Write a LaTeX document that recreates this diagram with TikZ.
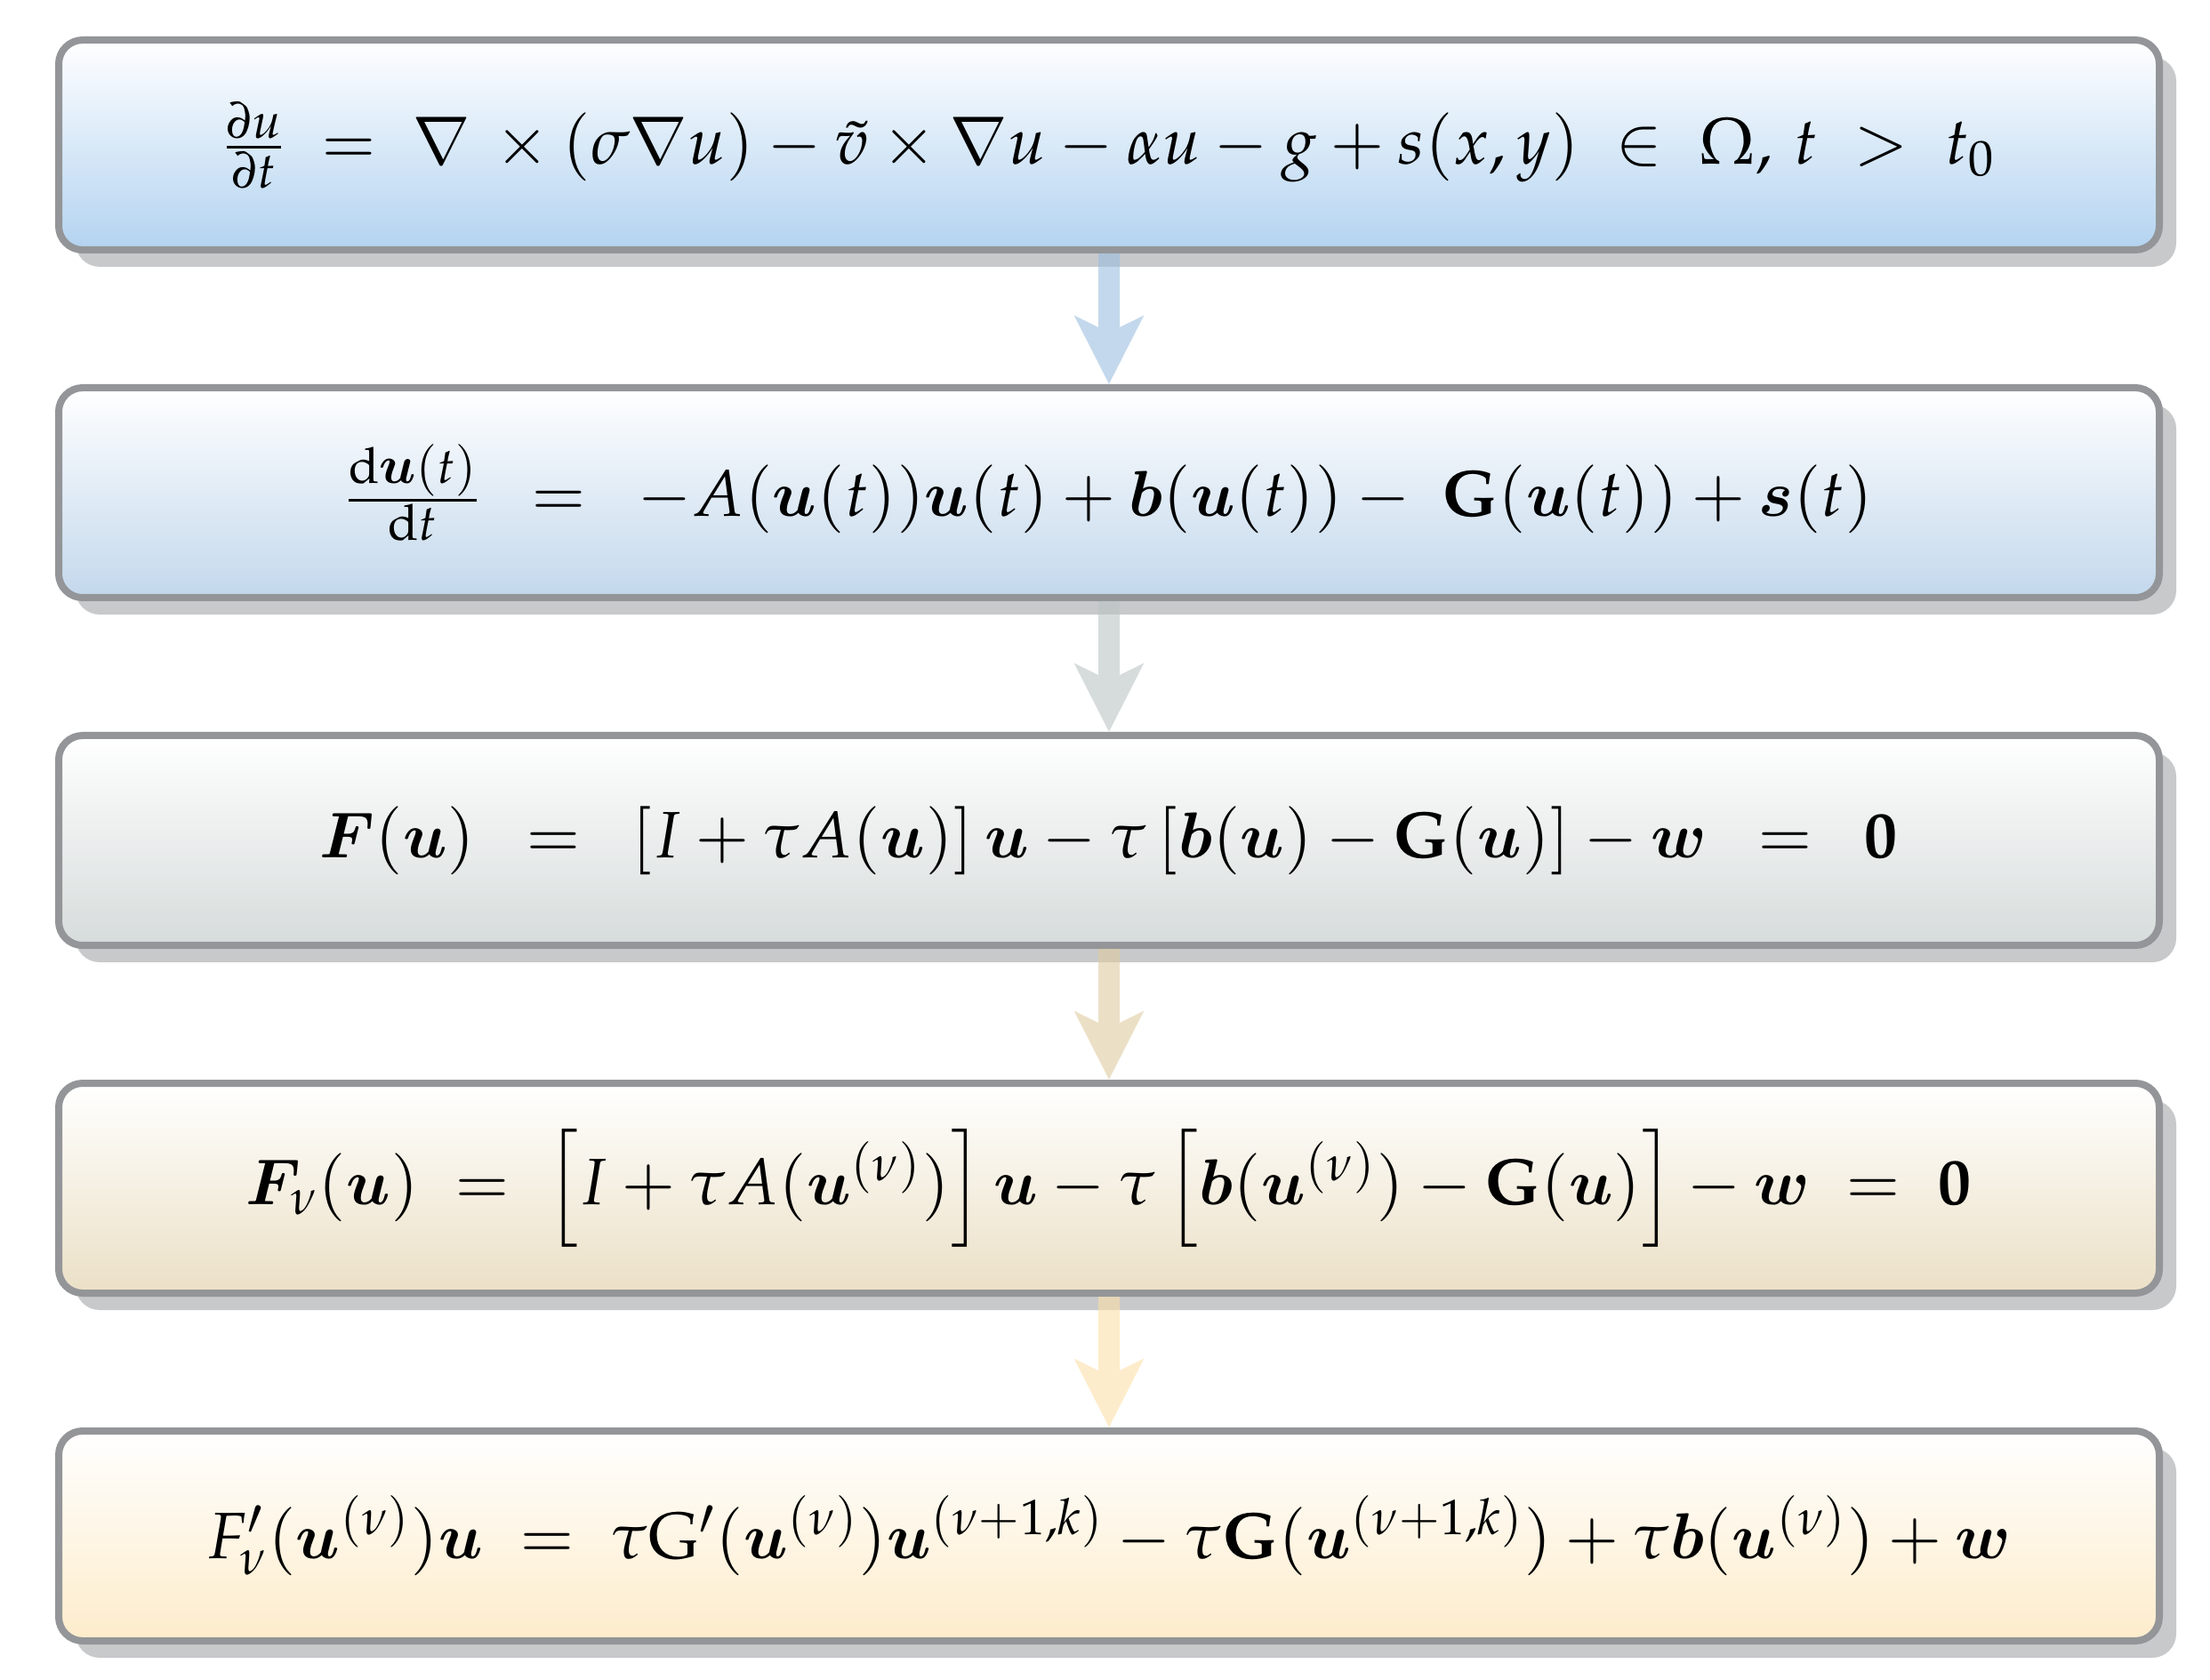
\documentclass[tikz,border=0pt]{standalone}
\usepackage{amsmath, bm, mathpazo}
\usetikzlibrary{positioning, shadows, arrows.meta}

\definecolor{boxA}{HTML}{B3D3F0}
\definecolor{boxB}{HTML}{C3D8EC}
\definecolor{boxC}{HTML}{D6DCDB}
\definecolor{boxD}{HTML}{EBE0C6}
\definecolor{boxE}{HTML}{FDECCB}
\definecolor{arrowB}{HTML}{9BBEDF}
\definecolor{arrowC}{HTML}{BBC5C3}
\definecolor{arrowD}{HTML}{DECBA0}
\definecolor{arrowE}{HTML}{FCDFA8}
\definecolor{framegray}{HTML}{939598}
\definecolor{shadowgray}{HTML}{C8C9CB}

\begin{document}
\begin{tikzpicture}[
    eqbox/.style={draw=framegray, line width=0.8mm, rounded corners=2.7mm,
        minimum width=23.62cm, minimum height=2.36cm,
        top color=white, bottom color=#1,
        drop shadow={shadow xshift=1.9mm, shadow yshift=-1.9mm,
            fill=shadowgray, opacity=1},
        font=\fontsize{21}{25}\selectfont},
    flow/.style={draw=#1, line width=2.4mm,
        -{Stealth[length=7.6mm, width=7.6mm, inset=1.8mm]}}
]
    \useasboundingbox (0,0) rectangle (24.85,-18.89);
    % the five stages, top to bottom
    \node[eqbox=boxA] (pde) at (12.47,-1.63)
        {$\frac{\partial u}{\partial t} \;=\; \nabla \,\times (\sigma\nabla u) - \tilde{v}\times\nabla u - \alpha u - g + s(x,y) \;\in\; \Omega,\, t \;>\; t_0$};
    \node[eqbox=boxB, below=1.47cm of pde] (ode)
        {$\frac{\mathrm{d}\bm{u}(t)}{\mathrm{d}t} \enspace=\enspace -A(\bm{u}(t))\bm{u}(t) + \bm{b}(\bm{u}(t)) -\; \mathbf{G}(\bm{u}(t)) + \bm{s}(t)$};
    \node[eqbox=boxC, below=1.47cm of ode] (euler)
        {$\bm{F}(\bm{u}) \enspace=\enspace [I + \tau A(\bm{u})]\,\bm{u} - \tau\,[\bm{b}(\bm{u}) - \mathbf{G}(\bm{u})] - \bm{w} \enspace=\enspace \mathbf{0}$};
    \node[eqbox=boxD, below=1.47cm of euler] (picard)
        {$\bm{F}_{\nu}(\bm{u}) \;=\; \Big[I + \tau A(\bm{u}^{(\nu)})\Big]\,\bm{u} - \tau\,\Big[\bm{b}(\bm{u}^{(\nu)}) - \mathbf{G}(\bm{u})\Big] - \bm{w} \;=\; \mathbf{0}$};
    \node[eqbox=boxE, below=1.47cm of picard] (newton)
        {$F'_{\nu}(\bm{u}^{(\nu)})\bm{u} \;=\; \tau\mathrm{G}'(\bm{u}^{(\nu)})\bm{u}^{(\nu+1,k)} - \tau\mathbf{G}(\bm{u}^{(\nu+1,k)}) + \tau\bm{b}(\bm{u}^{(\nu)}) + \bm{w}$};
    % arrows between stages
    \foreach \from/\to/\col in {pde/ode/arrowB, ode/euler/arrowC,
                                euler/picard/arrowD, picard/newton/arrowE} {
        \begin{scope}[transparency group, opacity=0.6]
            \draw[flow=\col] (\from) -- (\to);
        \end{scope}
    }
\end{tikzpicture}
\end{document}
